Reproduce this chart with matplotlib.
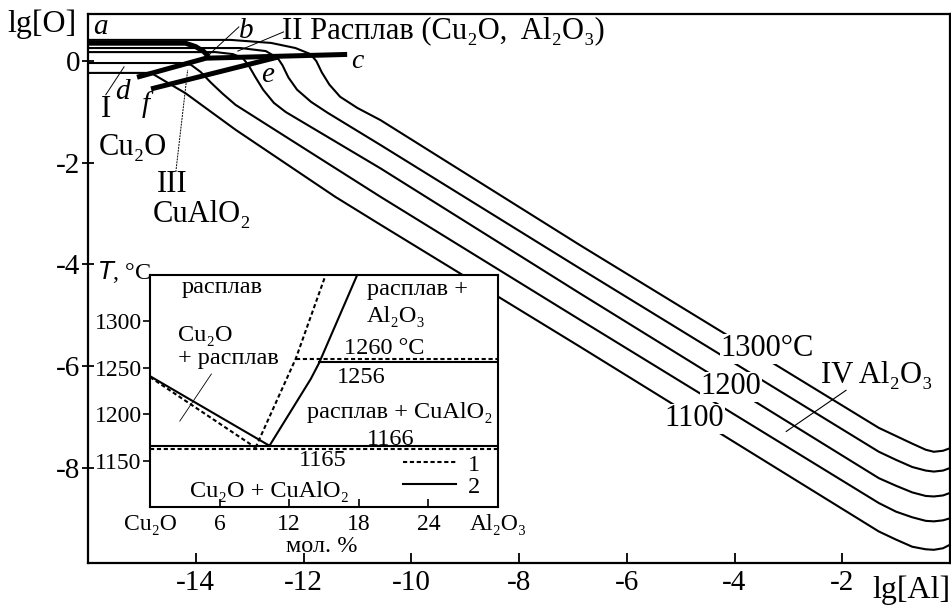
import matplotlib
matplotlib.use("Agg")
import matplotlib.pyplot as plt

plt.rcParams['font.family'] = ['Liberation Serif', 'DejaVu Serif']
plt.rcParams['axes.unicode_minus'] = False

# --- main diagram: isotherms lg[O] vs lg[Al] ---
tail_x = [-1.32, -1.0, -0.7, -0.45, -0.3, -0.13, 0.0]

lgal_1300 = [-16, -13.35, -12.6, -12.15, -11.87, -11.76, -11.66, -11.52, -11.32, -11.0, -10.57, -6.87] + tail_x
lgo_1300 = [0.42, 0.42, 0.36, 0.26, 0.14, 0.0, -0.22, -0.46, -0.70, -0.92, -1.16, -3.62,
            -7.22, -7.38, -7.53, -7.65, -7.69, -7.67, -7.62]

lgal_1250 = [-16, -13.17, -12.70, -12.48, -12.39, -12.28, -12.12, -11.86, -11.56, -10.57, -6.87] + tail_x
lgo_1250 = [0.26, 0.26, 0.20, 0.065, -0.08, -0.32, -0.56, -0.80, -1.01, -1.65, -4.08,
            -7.69, -7.85, -7.99, -8.06, -8.08, -8.06, -8.01]

lgal_1200 = [-16, -13.63, -13.31, -13.13, -13.02, -12.9, -12.75, -12.55, -12.33, -10.57, -6.87] + tail_x
lgo_1200 = [0.18, 0.18, 0.14, 0.065, -0.08, -0.30, -0.56, -0.82, -1.0, -2.11, -4.57,
            -8.21, -8.36, -8.49, -8.56, -8.57, -8.55, -8.50]

lgal_1150 = [-16, -14.28, -14.09, -13.91, -13.72, -13.50, -13.26, -10.57, -6.87] + tail_x
lgo_1150 = [-0.035, -0.035, -0.07, -0.21, -0.42, -0.64, -0.86, -2.67, -5.09,
            -8.70, -8.87, -8.98, -9.05, -9.06, -9.04, -9.00]

lgal_1100 = [-16, -14.83, -14.19, -13.26, -11.41, -10.57, -6.87] + tail_x
lgo_1100 = [-0.23, -0.23, -0.63, -1.35, -2.67, -3.22, -5.62,
            -9.26, -9.42, -9.56, -9.61, -9.62, -9.59, -9.52]

isotherms = [(lgal_1300, lgo_1300), (lgal_1250, lgo_1250), (lgal_1200, lgo_1200),
             (lgal_1150, lgo_1150), (lgal_1100, lgo_1100)]

# phase boundary lines (thick)
ab_x = [-16, -14.19, -14.0, -13.85, -13.76]
ab_y = [0.355, 0.355, 0.287, 0.19, 0.09]
dbc_x = [-15.09, -13.81, -11.19]
dbc_y = [-0.315, 0.06, 0.134]
fe_x = [-14.83, -12.48]
fe_y = [-0.545, 0.08]

# --- inset: Cu2O - Al2O3 phase diagram ---
liq_left_solid_x = [0, 10.3]
liq_left_solid_t = [1241, 1166]
liq_right_solid_x = [10.3, 13.86, 14.57, 17.86]
liq_right_solid_t = [1166, 1238, 1255, 1350]
liq_left_dash_x = [0, 9.1]
liq_left_dash_t = [1240, 1164]
liq_right_dash_x = [9.1, 12.57, 15.14]
liq_right_dash_t = [1164, 1260, 1350]
peritectic_solid_x = [14.57, 30]
peritectic_solid_t = [1256, 1256]
peritectic_dash_x = [12.57, 30]
peritectic_dash_t = [1260, 1260]
eutectic_solid_x = [0, 30]
eutectic_solid_t = [1166, 1166]
eutectic_dash_x = [0, 30]
eutectic_dash_t = [1163, 1163]

inset_xticks = [0, 6, 12, 18, 24, 30]
inset_xlabels = ['Cu\u2082O', '6', '12', '18', '24', 'Al\u2082O\u2083']
inset_yticks = [1150, 1200, 1250, 1300]

fig = plt.figure(figsize=(9.51, 6.06), dpi=100)
ax = fig.add_axes([88 / 951, 1 - 563 / 606, 862 / 951, 549 / 606])

for xs, ys in isotherms:
    ax.plot(xs, ys, color='black', lw=1.5, zorder=2)
for xs, ys in [(ab_x, ab_y), (dbc_x, dbc_y), (fe_x, fe_y)]:
    ax.plot(xs, ys, color='black', lw=3.6, solid_capstyle='butt', zorder=3)

# leader lines
ax.plot([-13.20, -13.76], [0.675, 0.124], color='black', lw=0.7)
ax.plot([-12.37, -13.22], [0.577, 0.20], color='black', lw=0.7)
ax.plot([-15.67, -15.33], [-0.66, -0.11], color='black', lw=0.7)
ax.plot([-14.37, -14.15], [-2.18, -0.17], color='black', lw=0.7, dashes=(2, 1))
ax.plot([-1.93, -3.04], [-6.48, -7.29], color='black', lw=0.8)

ax.set_xlim(-16, 0)
ax.set_ylim(-9.88, 0.93)
ax.set_xticks([-14, -12, -10, -8, -6, -4, -2])
ax.set_yticks([0, -2, -4, -6, -8])
ax.tick_params(axis='x', direction='in', length=7, width=1.3, labelsize=21, pad=5)
ax.tick_params(axis='y', direction='inout', length=9, width=1.3, labelsize=21, pad=1)
for s in ax.spines.values():
    s.set_linewidth(1.6)

fs = 22
ax.text(-15.76, 0.675, 'a', style='italic', fontsize=21, ha='center', va='center')
ax.text(-13.06, 0.60, 'b', style='italic', fontsize=21, ha='center', va='center')
ax.text(-11.0, -0.01, 'c', style='italic', fontsize=20, ha='center', va='center')
ax.text(-15.37, -0.60, 'd', style='italic', fontsize=21, ha='center', va='center')
ax.text(-12.67, -0.27, 'e', style='italic', fontsize=21, ha='center', va='center')
ax.text(-14.93, -0.86, 'f', style='italic', fontsize=21, ha='center', va='center')
ax.text(-15.67, -0.95, 'I', fontsize=fs, ha='center', va='center')
ax.text(-15.80, -1.69, 'Cu\u2082O', fontsize=fs, ha='left', va='center')
ax.text(-14.43, -2.42, 'III', fontsize=fs, ha='center', va='center')
ax.text(-14.80, -3.02, 'CuAlO\u2082', fontsize=fs, ha='left', va='center')
ax.text(-12.39, 0.60, 'II Расплав (Cu\u2082O,  Al\u2082O\u2083)', fontsize=fs, ha='left', va='center')
box = dict(facecolor='white', edgecolor='none', pad=0.5)
ax.text(-3.39, -5.66, '1300°C', fontsize=fs, ha='center', va='center', bbox=box, zorder=4)
ax.text(-4.07, -6.41, '1200', fontsize=fs, ha='center', va='center', bbox=box, zorder=4)
ax.text(-4.74, -7.04, '1100', fontsize=fs, ha='center', va='center', bbox=box, zorder=4)
ax.text(-2.39, -6.18, 'IV Al\u2082O\u2083', fontsize=fs, ha='left', va='center')

fig.text(42 / 951, 1 - 24 / 606, 'lg[O]', fontsize=23, ha='center', va='center')
fig.text(911 / 951, 1 - 590 / 606, 'lg[Al]', fontsize=23, ha='center', va='center')

# inset
axi = fig.add_axes([150 / 951, 1 - 507 / 606, 348 / 951, 232 / 606], zorder=5)
axi.set_facecolor('white')
dash = dict(color='black', lw=1.5, dashes=(2, 1.3))
solid = dict(color='black', lw=1.5)
axi.plot(liq_left_dash_x, liq_left_dash_t, **dash)
axi.plot(liq_right_dash_x, liq_right_dash_t, **dash)
axi.plot(peritectic_dash_x, peritectic_dash_t, **dash)
hd, = axi.plot(eutectic_dash_x, eutectic_dash_t, label='1', **dash)
axi.plot(liq_left_solid_x, liq_left_solid_t, **solid)
axi.plot(liq_right_solid_x, liq_right_solid_t, **solid)
axi.plot(peritectic_solid_x, peritectic_solid_t, **solid)
hs, = axi.plot(eutectic_solid_x, eutectic_solid_t, label='2', **solid)
axi.plot([2.57, 5.29], [1192.6, 1243.3], color='black', lw=0.6)

axi.set_xlim(0, 30)
axi.set_ylim(1100, 1350)
axi.set_xticks(inset_xticks)
axi.set_xticklabels(inset_xlabels)
axi.set_yticks(inset_yticks)
axi.tick_params(axis='x', direction='in', length=6, width=1.2, labelsize=17, pad=5)
axi.tick_params(axis='y', direction='out', length=5, width=1.2, labelsize=17, pad=1)
for s in axi.spines.values():
    s.set_linewidth(1.5)

ifs = 17.5
axi.text(2.73, 1331, 'расплав', fontsize=ifs, va='baseline')
axi.text(2.43, 1279, 'Cu\u2082O', fontsize=ifs, va='baseline')
axi.text(2.43, 1254, '+ расплав', fontsize=ifs, va='baseline')
axi.text(18.7, 1328, 'расплав +', fontsize=ifs, va='baseline')
axi.text(18.7, 1299, 'Al\u2082O\u2083', fontsize=ifs, va='baseline')
axi.text(16.7, 1265, '1260 °C', fontsize=ifs, va='baseline')
axi.text(16.1, 1234, '1256', fontsize=ifs, va='baseline')
axi.text(13.57, 1196, 'расплав + CuAlO\u2082', fontsize=ifs, va='baseline')
axi.text(18.7, 1167, '1166', fontsize=ifs, va='baseline')
axi.text(12.85, 1144, '1165', fontsize=ifs, va='baseline')
axi.text(3.43, 1111, 'Cu\u2082O + CuAlO\u2082', fontsize=ifs, va='baseline')
axi.text(-0.15, 1.013, '$T$, °C', transform=axi.transAxes, fontsize=ifs, ha='left', va='center')
axi.text(0.494, -0.172, 'мол. %', transform=axi.transAxes, fontsize=ifs, ha='center', va='center')
axi.legend(handles=[hd, hs], loc='lower right', bbox_to_anchor=(0.95, 0.04), frameon=False,
           fontsize=ifs, handlelength=2.2, handletextpad=0.5, labelspacing=0.0,
           borderpad=0, borderaxespad=0)

fig.savefig('out.png', dpi=100)
